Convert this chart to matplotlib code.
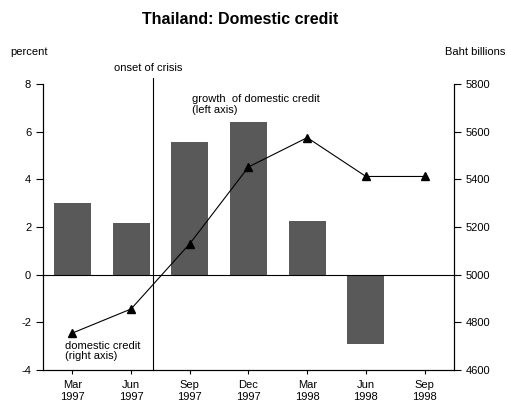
import numpy as np
import matplotlib.pyplot as plt

plt.rcParams['font.family'] = ['Liberation Sans', 'DejaVu Sans']
plt.rcParams['axes.unicode_minus'] = False

periods = ['Mar\n1997', 'Jun\n1997', 'Sep\n1997', 'Dec\n1997', 'Mar\n1998', 'Jun\n1998', 'Sep\n1998']
credit_growth = [3.0, 2.15, 5.55, 6.4, 2.25, -2.9, -0.05]      # percent, left axis
domestic_credit = [4755, 4856, 5130, 5452, 5575, 5412, 5412]   # Baht billions, right axis
crisis_pos = 1.37

fig = plt.figure(figsize=(5.07, 4.08), dpi=100)
ax = fig.add_axes([43 / 507, 38 / 408, 411 / 507, 286 / 408])
x = np.arange(len(periods))

ax.bar(x, credit_growth, width=0.63, color='#595959', zorder=2)
ax.axhline(0, color='black', linewidth=0.8, zorder=3)
ax.set_xlim(-0.5, len(periods) - 0.5)
ax.set_ylim(-4, 8)
ax.set_yticks(np.arange(-4, 9, 2))
ax.set_xticks(x)
ax.set_xticklabels(periods, linespacing=1.25)
ax.tick_params(axis='both', labelsize=8, length=5, width=0.8)
ax.tick_params(axis='x', length=3, pad=4)
ax.spines['top'].set_visible(False)
for s in ['left', 'bottom', 'right']:
    ax.spines[s].set_linewidth(0.8)

ax2 = ax.twinx()
ax2.plot(x, domestic_credit, color='black', linewidth=0.8, marker='^', markersize=6, zorder=4)
ax2.set_ylim(4600, 5800)
ax2.set_yticks(np.arange(4600, 5801, 200))
ax2.tick_params(axis='y', labelsize=8, length=5, width=0.8)
ax2.spines['top'].set_visible(False)
ax2.spines['right'].set_linewidth(0.8)

ax.plot([crisis_pos, crisis_pos], [-4, 8.25], color='black', linewidth=0.8, clip_on=False, zorder=5)
ax.text(crisis_pos - 0.08, 8.45, 'onset of crisis', ha='center', va='bottom', fontsize=8)
ax.text(2.04, 7.14, 'growth  of domestic credit\n(left axis)', ha='left', va='center', fontsize=8, linespacing=1.05)
ax.text(-0.12, -3.2, 'domestic credit\n(right axis)', ha='left', va='center', fontsize=8, linespacing=1.05)

fig.text(240 / 507, 1 - 20 / 408, 'Thailand: Domestic credit', ha='center', va='center', fontsize=11.5, fontweight='bold')
fig.text(10 / 507, 1 - 52 / 408, 'percent', ha='left', va='center', fontsize=8)
fig.text(505 / 507, 1 - 52 / 408, 'Baht billions', ha='right', va='center', fontsize=8)

fig.savefig('out.png', dpi=100)
